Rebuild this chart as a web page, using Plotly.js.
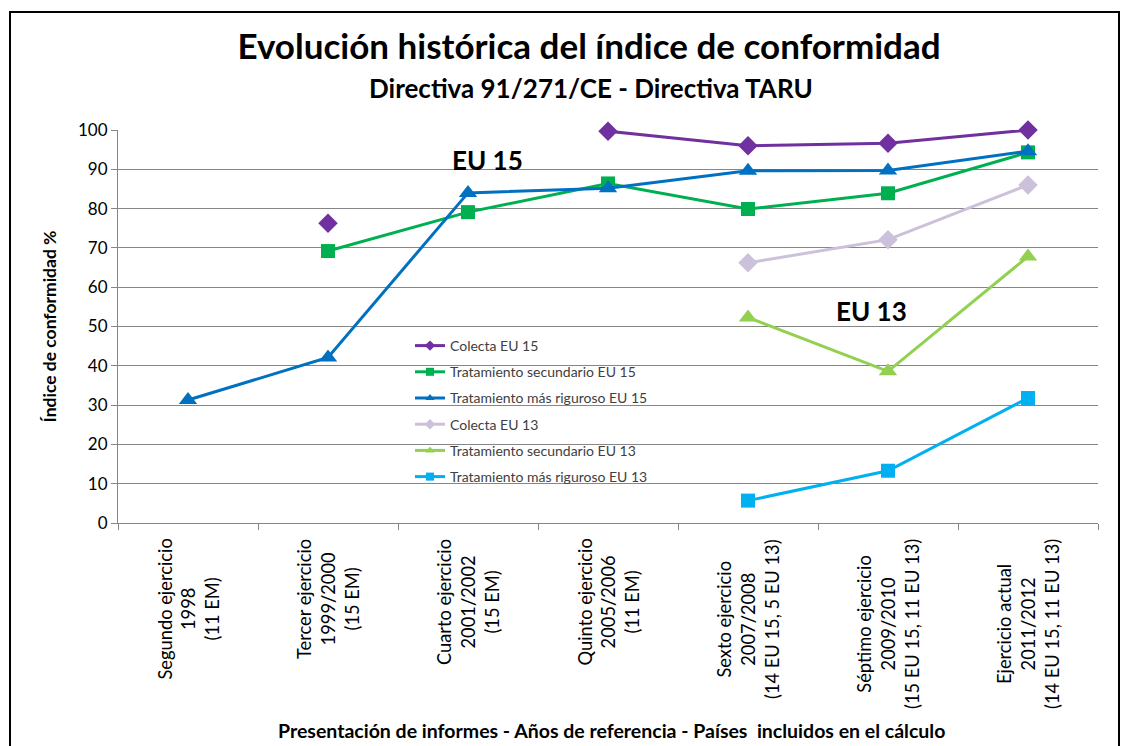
<!DOCTYPE html>
<html>
<head>
<meta charset="utf-8">
<script src="https://cdn.plot.ly/plotly-3.0.1.min.js"></script>
<style>
html,body{margin:0;padding:0;background:#fff;}
#chart{width:1125px;height:746px;}
</style>
</head>
<body>
<div id="chart"></div>
<script>
// ---- data ----
var categories = [
  "Segundo ejercicio<br>1998<br>(11 EM)",
  "Tercer ejercicio<br>1999/2000<br>(15 EM)",
  "Cuarto ejercicio<br>2001/2002<br>(15 EM)",
  "Quinto ejercicio<br>2005/2006<br>(11 EM)",
  "Sexto ejercicio<br>2007/2008<br>(14 EU 15, 5 EU 13)",
  "Séptimo ejercicio<br>2009/2010<br>(15 EU 15, 11 EU 13)",
  "Ejercicio actual<br>2011/2012<br>(14 EU 15, 11 EU 13)"
];
var colectaEU15     = [null, 76.3, null, 99.7, 96.0, 96.6, 100.0];
var secundarioEU15  = [null, 69.2, 79.1, 86.4, 79.9, 83.9, 94.3];
var rigurosoEU15    = [31.3, 42.1, 84.0, 85.2, 89.6, 89.7, 94.6];
var colectaEU13     = [null, null, null, null, 66.2, 72.1, 86.0];
var secundarioEU13  = [null, null, null, null, 52.3, 38.6, 67.8];
var rigurosoEU13    = [null, null, null, null, 5.7, 13.3, 31.8];
var seriesNames = [
  "Colecta EU 15",
  "Tratamiento secundario EU 15",
  "Tratamiento más riguroso EU 15",
  "Colecta EU 13",
  "Tratamiento secundario EU 13",
  "Tratamiento más riguroso EU 13"
];
var yTicks = [0,10,20,30,40,50,60,70,80,90,100];

// ---- styles ----
var FONT = "Lato, 'Open Sans', sans-serif";
var styles = [
  {color:"#7030A0", symbol:"diamond", size:15},
  {color:"#00B050", symbol:"square", size:14},
  {color:"#0070C0", symbol:"triangle-up", size:16},
  {color:"#CCC0DA", symbol:"diamond", size:15},
  {color:"#92D050", symbol:"triangle-up", size:16},
  {color:"#00B0F0", symbol:"square", size:14}
];
var allSeries = [colectaEU15, secundarioEU15, rigurosoEU15, colectaEU13, secundarioEU13, rigurosoEU13];

var traces = allSeries.map(function(vals, i){
  return {
    type:"scatter", mode:"lines+markers",
    x: categories, y: vals, name: seriesNames[i],
    showlegend:false, cliponaxis:false,
    connectgaps:false,
    line:{color:styles[i].color, width:3},
    marker:{color:styles[i].color, symbol:styles[i].symbol, size:styles[i].size}
  };
});
// legend entries (small markers, as in the original legend)
allSeries.forEach(function(vals, i){
  traces.push({
    type:"scatter", mode:"lines+markers",
    x:[null], y:[null], name: seriesNames[i],
    legendgroup:"g"+i, showlegend:true,
    line:{color:styles[i].color, width:3},
    marker:{color:styles[i].color, symbol:styles[i].symbol, size:8}
  });
});

var L = 118, R = 27, T = 130, B = 223, W = 1125, H = 746;
var pw = W - L - R, ph = H - T - B;
function px2x(p){ return (p - L)/pw; }
function px2y(p){ return (H - B - p)/ph; }

var annotations = categories.map(function(c){
  return {
    x:c, xref:"x", y:px2y(537), yref:"paper",
    text:c, showarrow:false, textangle:-90, align:"center",
    xanchor:"center", yanchor:"top",
    font:{family:FONT, size:18.3, color:"#000"}
  };
});
annotations.push({
  text:"<b>Directiva 91/271/CE - Directiva TARU</b>", xref:"paper", yref:"paper",
  x:px2x(591), xanchor:"center", y:px2y(88), yanchor:"middle", showarrow:false,
  font:{family:FONT, size:26, color:"#000"}
});
annotations.push({
  text:"<b>EU 15</b>", xref:"paper", yref:"paper",
  x:px2x(487), xanchor:"center", y:px2y(160), yanchor:"middle", showarrow:false,
  font:{family:FONT, size:26, color:"#000"}
});
annotations.push({
  text:"<b>EU 13</b>", xref:"paper", yref:"paper",
  x:px2x(871), xanchor:"center", y:px2y(311), yanchor:"middle", showarrow:false,
  font:{family:FONT, size:26, color:"#000"}
});
annotations.push({
  text:"<b>Presentación de informes - Años de referencia - Países  incluidos en el cálculo</b>",
  xref:"paper", yref:"paper", x:px2x(611), xanchor:"center", y:px2y(730), yanchor:"middle",
  showarrow:false, font:{family:FONT, size:19.5, color:"#000"}
});

var layout = {
  width:W, height:H,
  margin:{l:L, r:R, t:T, b:B, pad:0},
  paper_bgcolor:"#fff", plot_bgcolor:"#fff",
  showlegend:true,
  title:{text:"<b>Evolución histórica del índice de conformidad</b>",
    x:589/W, xanchor:"center", y:1-47/H, yanchor:"middle", xref:"container",
    font:{family:FONT, size:35, color:"#000"}},
  xaxis:{type:"category", showticklabels:false, showgrid:false,
    showline:true, linecolor:"#868686", linewidth:1,
    ticks:"outside", ticklen:6, tickcolor:"#868686", tickson:"boundaries",
    range:[-0.5, 6.5], fixedrange:true, zeroline:false},
  yaxis:{range:[0,100], tickvals:yTicks, ticktext:yTicks.map(String),
    showgrid:true, gridcolor:"#868686", gridwidth:1,
    showline:true, linecolor:"#868686", linewidth:1,
    ticks:"outside", ticklen:6, tickcolor:"#868686",
    tickfont:{family:FONT, size:17, color:"#000"}, zeroline:false,
    title:{text:"<b>Índice de conformidad %</b>", standoff:16,
      font:{family:FONT, size:17.5, color:"#000"}}},
  legend:{x:px2x(410), xanchor:"left", y:px2y(330), yanchor:"top",
    bgcolor:"rgba(255,255,255,0)", borderwidth:0, tracegroupgap:5,
    font:{family:FONT, size:14, color:"#404040"}},
  annotations:annotations,
  shapes:[
    {type:"rect", xref:"paper", yref:"paper", layer:"between",
     x0:px2x(354), x1:px2x(678), y0:px2y(495), y1:px2y(333),
     fillcolor:"#fff", line:{width:0}},
    {type:"rect", xref:"paper", yref:"paper", layer:"above",
     x0:px2x(10), x1:px2x(1119), y0:px2y(780), y1:px2y(12),
     fillcolor:"rgba(0,0,0,0)", line:{color:"#000", width:2}}
  ]
};

Plotly.newPlot("chart", traces, layout, {displayModeBar:false, staticPlot:true});
</script>
</body>
</html>
